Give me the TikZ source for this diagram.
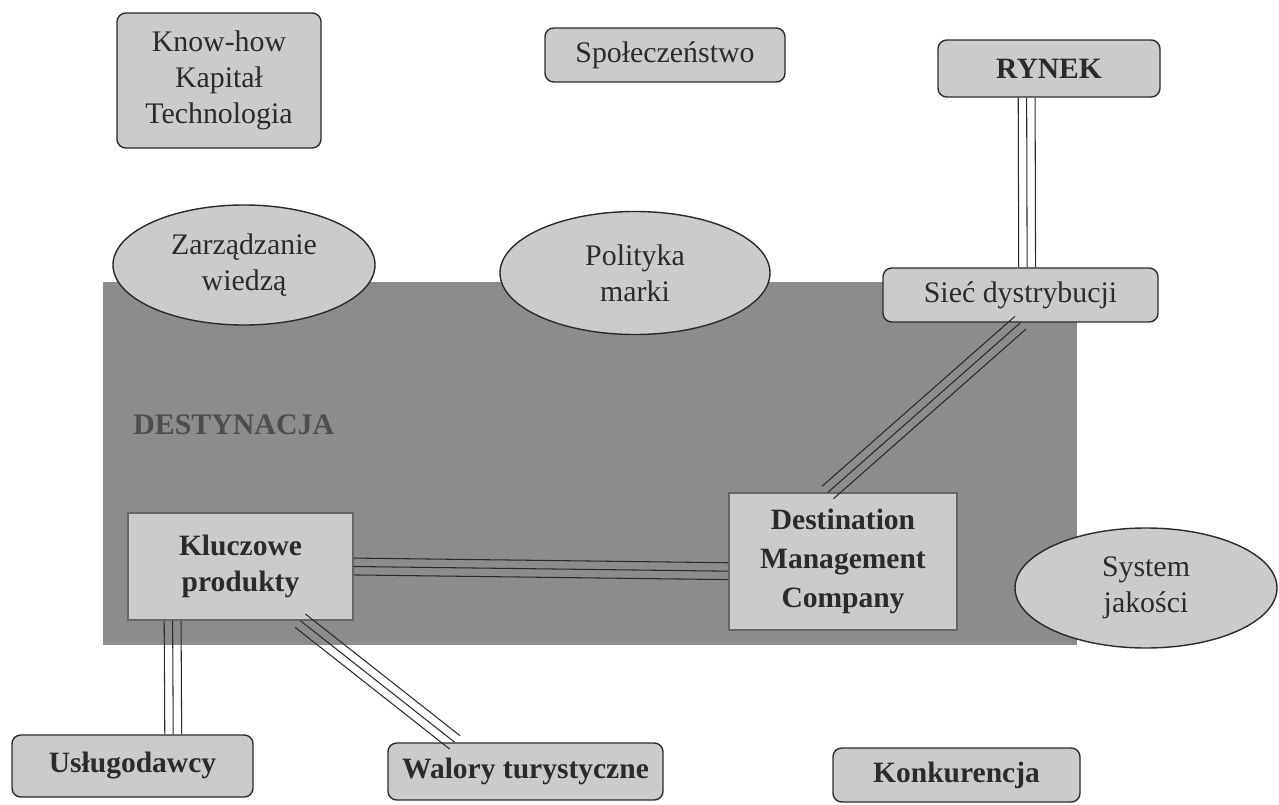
\documentclass[tikz,border=0pt]{standalone}
\usepackage{fontspec}
\setmainfont{Liberation Serif}
\usetikzlibrary{shapes.geometric,calc}
\definecolor{boxfill}{HTML}{CBCBCB}
\definecolor{bigfill}{HTML}{8C8C8C}
\definecolor{txt}{HTML}{2B2B2B}
\definecolor{destxt}{HTML}{4E4E4E}
\newcommand\px{0.02cm}
\newcommand\railgap{4.8pt}
\newcommand\railline[2]{%
  \draw[railstyle] (#1) -- (#2);
  \draw[railstyle] ($(#1)!\railgap!90:(#2)$) -- ($(#2)!\railgap!-90:(#1)$);
  \draw[railstyle] ($(#1)!\railgap!-90:(#2)$) -- ($(#2)!\railgap!90:(#1)$);}
\tikzset{
  rbox/.style={draw=txt, line width=0.8pt, fill=boxfill, rounded corners=5pt, inner sep=0pt,
    text=txt, align=center, font=\fontsize{17}{20.5}\selectfont},
  sbox/.style={draw=black!60, line width=0.7pt, fill=boxfill, inner sep=0pt,
    text=txt, align=center, font=\fontsize{16.8}{21}\selectfont\bfseries},
  oval/.style={ellipse, draw=txt, line width=0.8pt, fill=boxfill, inner sep=0pt,
    text=txt, align=center, font=\fontsize{17}{20.5}\selectfont},
  boldfont/.style={font=\fontsize{16.8}{20}\selectfont\bfseries},
  railstyle/.style={draw=txt, line width=0.6pt},
}
\begin{document}
\begin{tikzpicture}[x=0.02cm, y=-0.02cm]
\useasboundingbox (0,0) rectangle (1279,805);
% destination area
\fill[bigfill] (103,282) rectangle (1077,645);
\node[anchor=west, text=destxt, font=\fontsize{17}{20}\selectfont\bfseries, inner sep=0pt] (dest) at (133,425) {DESTYNACJA};
% nodes
\node[rbox, minimum width=204*\px, minimum height=135*\px] (kh) at (219,80.5) {Know-how\\Kapitał\\Technologia};
\node[rbox, minimum width=240*\px, minimum height=54*\px] (spo) at (665,55) {Społeczeństwo};
\node[rbox, boldfont, minimum width=222*\px, minimum height=57*\px] (ryn) at (1049,68.5) {RYNEK};
\node[oval, minimum width=262*\px, minimum height=120*\px] (zw) at (244,265) {Zarządzanie\\wiedzą};
\node[oval, minimum width=270*\px, minimum height=123*\px] (pm) at (635,273) {Polityka\\marki};
\node[rbox, minimum width=275*\px, minimum height=54*\px] (sd) at (1020.5,295) {Sieć dystrybucji};
\node[sbox, minimum width=225*\px, minimum height=107*\px, font=\fontsize{16.8}{20}\selectfont\bfseries] (kp) at (240.5,566.5) {Kluczowe\\produkty};
\node[sbox, minimum width=228*\px, minimum height=137*\px, font=\fontsize{16.8}{22}\selectfont\bfseries] (dmc) at (843,561.5) {Destination\\Management\\Company};
\node[oval, minimum width=262*\px, minimum height=120*\px] (sj) at (1146,588) {System\\jakości};
\node[rbox, boldfont, minimum width=241*\px, minimum height=62*\px] (usl) at (132.5,766) {Usługodawcy};
\node[rbox, boldfont, minimum width=275*\px, minimum height=57*\px] (wal) at (525.5,771.5) {Walory turystyczne};
\node[rbox, boldfont, minimum width=247*\px, minimum height=54*\px] (kon) at (956.5,775) {Konkurencja};
% connectors
\coordinate (a1) at ($(ryn.south west)!0.40!(ryn.south east)$);
\coordinate (a2) at ($(sd.north west)!0.524!(sd.north east)$);
\railline{a1}{a2}
\coordinate (b1) at ($(sd.south west)!0.50!(sd.south east)$);
\coordinate (b2) at ($(dmc.north west)!0.434!(dmc.north east)$);
\railline{b1}{b2}
\coordinate (c1) at (kp.east);
\coordinate (c2) at ($(dmc.north west)!0.57!(dmc.south west)$);
\railline{c1}{c2}
\coordinate (d1) at ($(kp.south west)!0.20!(kp.south east)$);
\coordinate (d2) at ($(usl.north west)!0.668!(usl.north east)$);
\railline{d1}{d2}
\coordinate (e1) at ($(kp.south west)!0.764!(kp.south east)$);
\coordinate (e2) at ($(wal.north west)!0.244!(wal.north east)$);
\railline{e1}{e2}
\end{tikzpicture}
\end{document}
